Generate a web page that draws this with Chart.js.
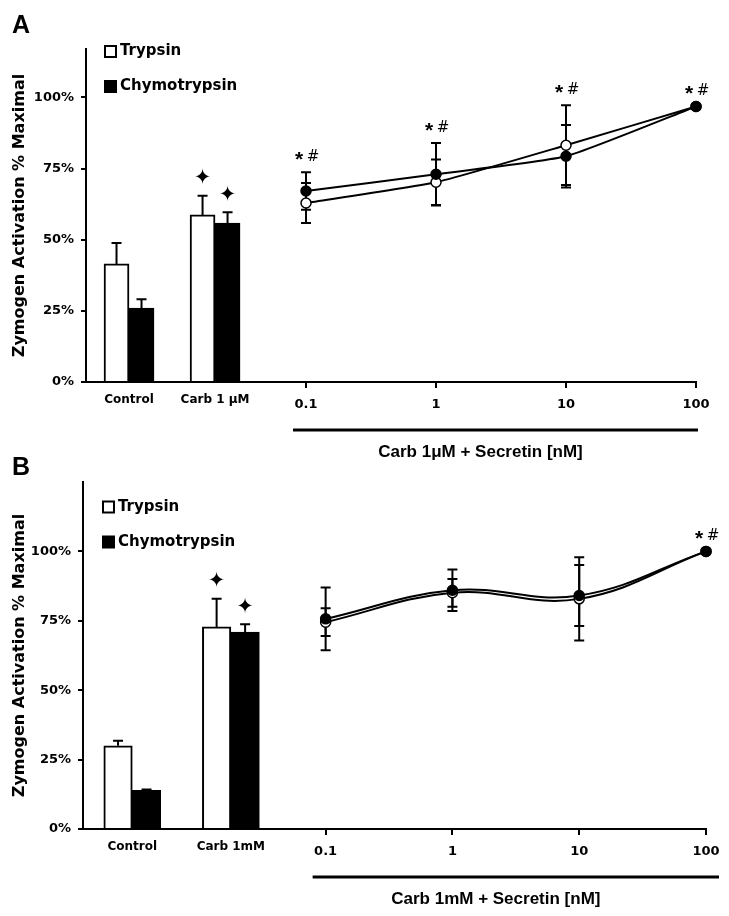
<!DOCTYPE html>
<html>
<head>
<meta charset="utf-8">
<script src="https://cdn.jsdelivr.net/npm/chart.js@4.4.1/dist/chart.umd.min.js"></script>
<style>
html,body{margin:0;padding:0;background:#fff;}
body{position:relative;width:729px;height:916px;overflow:hidden;}
canvas{display:block;}
.letter{position:absolute;left:12px;font:bold 25px 'Liberation Sans',Arial,sans-serif;line-height:25px;color:#000;}
</style>
</head>
<body>
<canvas id="chartA" width="729" height="460"></canvas>
<canvas id="chartB" width="729" height="456"></canvas>
<div class="letter" style="top:12px">A</div>
<div class="letter" style="top:454px">B</div>
<script>
var doses = [0.1, 1, 10, 100];
var yTicks = [0, 25, 50, 75, 100];
var seriesNames = ['Trypsin', 'Chymotrypsin'];

// panel A
var groupsA = ['Control', 'Carb 1 μM'];
var trypsinBarA = [41.5, 58.7];
var trypsinBarErrA = [7.3, 6.7];
var chymoBarA = [26, 55.8];
var chymoBarErrA = [3.1, 3.8];
var trypsinLineA = [62.9, 70.2, 83.2, 96.8];
var trypsinLineErrA = [7, 8, 14, 0];
var chymoLineA = [67.1, 73, 79.3, 96.8];
var chymoLineErrA = [6.6, 11, 11, 0];
var barMarksA = ['', '✦'];
var doseMarksA = ['* #', '* #', '* #', '* #'];

// panel B
var groupsB = ['Control', 'Carb 1mM'];
var trypsinBarB = [30, 72.8];
var trypsinBarErrB = [1.8, 10.1];
var chymoBarB = [13.9, 70.9];
var chymoBarErrB = [0.3, 2.9];
var trypsinLineB = [74.5, 85.1, 82.9, 100];
var trypsinLineErrB = [5, 5, 15, 0];
var chymoLineB = [75.7, 86, 84.1, 100];
var chymoLineErrB = [11.3, 7.5, 11, 0];
var barMarksB = ['', '✦'];
var doseMarksB = ['', '', '', '* #'];

Chart.defaults.font.family = "'DejaVu Sans', Verdana, sans-serif";
Chart.defaults.color = '#000';

function pts(xs, ys) {
  return ys.map(function (v, i) { return {x: xs[i], y: v}; });
}

var extras = {
  id: 'extras',
  beforeDatasetsDraw: function (chart) {
    var ctx = chart.ctx, ys = chart.scales.y;
    ctx.save();
    ctx.strokeStyle = '#000';
    ctx.lineWidth = 2;
    chart.data.datasets.forEach(function (ds, i) {
      if (!ds.errors) return;
      var meta = chart.getDatasetMeta(i);
      meta.data.forEach(function (el, j) {
        var v = ds.data[j].y, e = ds.errors[j];
        if (!e) return;
        var top = ys.getPixelForValue(v + e);
        var bot = ds.type === 'line' ? ys.getPixelForValue(v - e) : el.y;
        ctx.beginPath();
        ctx.moveTo(el.x, top); ctx.lineTo(el.x, bot);
        ctx.moveTo(el.x - 5, top); ctx.lineTo(el.x + 5, top);
        if (ds.type === 'line') { ctx.moveTo(el.x - 5, bot); ctx.lineTo(el.x + 5, bot); }
        ctx.stroke();
      });
    });
    ctx.restore();
  },
  afterDraw: function (chart, args, o) {
    var ctx = chart.ctx, ys = chart.scales.y, xs = chart.scales.x;
    var area = chart.chartArea;
    ctx.save();
    ctx.fillStyle = '#000';
    ctx.strokeStyle = '#000';
    ctx.textBaseline = 'middle';

    // legend
    var row = 0;
    chart.data.datasets.forEach(function (ds) {
      if (ds.type !== 'bar') return;
      var cy = o.legendY + row * o.legendGap;
      ctx.fillStyle = ds.backgroundColor;
      ctx.fillRect(o.legendX, cy - 5.5, 11, 11);
      ctx.lineWidth = 2;
      ctx.strokeRect(o.legendX, cy - 5.5, 11, 11);
      ctx.fillStyle = '#000';
      ctx.font = "bold 15px 'DejaVu Sans'";
      ctx.textAlign = 'left';
      ctx.fillText(ds.label, o.legendX + 15, cy);
      row++;
    });

    // marks over the bars
    chart.data.datasets.forEach(function (ds, i) {
      if (!ds.marks) return;
      var meta = chart.getDatasetMeta(i);
      meta.data.forEach(function (el, j) {
        if (!ds.marks[j]) return;
        var top = ys.getPixelForValue(ds.data[j].y + (ds.errors[j] || 0));
        ctx.font = "21px 'DejaVu Sans'";
        ctx.textAlign = 'center';
        ctx.fillText(ds.marks[j], el.x, top - 17);
      });
    });

    // marks over the doses
    o.doseMarks.forEach(function (m, j) {
      if (!m) return;
      var hi = Infinity;
      chart.data.datasets.forEach(function (ds) {
        if (ds.type !== 'line') return;
        hi = Math.min(hi, ys.getPixelForValue(ds.data[j].y + (ds.errors[j] || 0)));
      });
      var px = xs.getPixelForValue(doses[j]);
      var cy = hi - 17;
      ctx.textAlign = 'center';
      ctx.textBaseline = 'alphabetic';
      ctx.font = "bold 21px 'Liberation Sans'";
      ctx.fillText(m.split(' ')[0], px - 7, cy + 11);
      ctx.font = "15px 'DejaVu Sans'";
      ctx.fillText(m.split(' ')[1], px + 7, cy + 6);
      ctx.textBaseline = 'middle';
    });

    // bracket and dose title
    var bx0 = xs.getPixelForValue(doses[0]) - 13;
    var bx1 = xs.getPixelForValue(doses[doses.length - 1]) + o.bracketRight;
    ctx.lineWidth = 3;
    ctx.beginPath();
    ctx.moveTo(bx0, area.bottom + 48);
    ctx.lineTo(bx1, area.bottom + 48);
    ctx.stroke();
    ctx.font = "bold 17px 'Liberation Sans'";
    ctx.textAlign = 'center';
    ctx.fillText(o.title, xs.getPixelForValue(o.titleAt), area.bottom + 70);
    ctx.restore();
  }
};

function makePanel(id, p) {
  return new Chart(document.getElementById(id), {
    type: 'bar',
    data: {
      datasets: [
        {type: 'line', label: seriesNames[1], xAxisID: 'x', data: pts(doses, p.chymoLine), errors: p.chymoLineErr,
         borderColor: '#000', borderWidth: 2, tension: p.tension, pointRadius: 5, pointBorderWidth: 1.5,
         pointBackgroundColor: '#000', pointBorderColor: '#000', clip: false, order: 0},
        {type: 'line', label: seriesNames[0], xAxisID: 'x', data: pts(doses, p.trypsinLine), errors: p.trypsinLineErr,
         borderColor: '#000', borderWidth: 2, tension: p.tension, pointRadius: 5, pointBorderWidth: 1.5,
         pointBackgroundColor: '#fff', pointBorderColor: '#000', clip: false, order: 1},
        {type: 'bar', label: seriesNames[0], xAxisID: 'xb', data: pts([0, 1], p.trypsinBar), errors: p.trypsinBarErr,
         marks: p.barMarks, backgroundColor: '#fff', borderColor: '#000', borderWidth: 2,
         barThickness: p.barWidth, order: 2},
        {type: 'bar', label: seriesNames[1], xAxisID: 'xb', data: pts([0, 1], p.chymoBar), errors: p.chymoBarErr,
         marks: p.barMarks, backgroundColor: '#000', borderColor: '#000', borderWidth: 2,
         barThickness: p.barWidth, order: 3}
      ]
    },
    options: {
      responsive: false,
      animation: false,
      devicePixelRatio: 1,
      layout: {padding: {top: p.padTop, right: p.padRight, left: 0, bottom: 0}},
      plugins: {
        legend: {display: false},
        tooltip: {enabled: false},
        extras: {legendX: p.legendX, legendY: p.legendY, legendGap: 35, doseMarks: p.doseMarks,
                 title: p.title, titleAt: 2.2, bracketRight: p.bracketRight}
      },
      scales: {
        y: {
          min: 0, max: p.yMax,
          afterBuildTicks: function (s) { s.ticks = yTicks.map(function (v) { return {value: v}; }); },
          afterFit: function (s) { s.width = p.axisLeft; },
          border: {color: '#000', width: 2},
          grid: {drawOnChartArea: false, drawTicks: true, tickLength: 5, color: '#000', lineWidth: 2},
          ticks: {padding: 7, font: {size: 13, weight: 'bold'}, callback: function (v) { return v + '%'; }},
          title: {display: true, text: 'Zymogen Activation % Maximal', font: {size: 16, weight: 'bold'}, padding: {top: 10, bottom: 0}}
        },
        x: {
          type: 'logarithmic', position: 'bottom', offset: false,
          min: p.logMin, max: 100,
          afterBuildTicks: function (s) { s.ticks = doses.map(function (v) { return {value: v}; }); },
          afterFit: function (s) { s.height = p.axisBottom; },
          border: {color: '#000', width: 2},
          grid: {drawOnChartArea: false, drawTicks: true, tickLength: 6, color: '#000', lineWidth: 2, offset: false},
          ticks: {padding: 9, maxRotation: 0, autoSkip: false, font: {size: 13, weight: 'bold'},
                  callback: function (v) { return String(v); }}
        },
        xb: {
          type: 'linear', axis: 'x', position: {y: 0}, offset: false,
          min: -0.5, max: p.barMax,
          afterBuildTicks: function (s) { s.ticks = p.groups.map(function (g, i) { return {value: i}; }); },
          border: {display: false},
          grid: {display: false, drawTicks: false},
          ticks: {padding: 11, maxRotation: 0, autoSkip: false, font: {size: 12, weight: 'bold'},
                  callback: function (v) { return p.groups[v]; }}
        }
      }
    },
    plugins: [extras]
  });
}

makePanel('chartA', {
  groups: groupsA, trypsinBar: trypsinBarA, trypsinBarErr: trypsinBarErrA, chymoBar: chymoBarA, chymoBarErr: chymoBarErrA,
  trypsinLine: trypsinLineA, trypsinLineErr: trypsinLineErrA, chymoLine: chymoLineA, chymoLineErr: chymoLineErrA,
  barMarks: barMarksA, doseMarks: doseMarksA, title: 'Carb 1μM + Secretin [nM]',
  yMax: 117, logMin: 0.00203, barMax: 6.59, tension: 0.15, barWidth: 25,
  padTop: 49, padRight: 33, axisLeft: 86, axisBottom: 78, legendX: 105, legendY: 51.5, bracketRight: 2
});

makePanel('chartB', {
  groups: groupsB, trypsinBar: trypsinBarB, trypsinBarErr: trypsinBarErrB, chymoBar: chymoBarB, chymoBarErr: chymoBarErrB,
  trypsinLine: trypsinLineB, trypsinLineErr: trypsinLineErrB, chymoLine: chymoLineB, chymoLineErr: chymoLineErrB,
  barMarks: barMarksB, doseMarks: doseMarksB, title: 'Carb 1mM + Secretin [nM]',
  yMax: 125, logMin: 0.00122, barMax: 5.82, tension: 0.4, barWidth: 28.5,
  padTop: 22, padRight: 23, axisLeft: 83, axisBottom: 87, legendX: 103, legendY: 47, bracketRight: 13
});
</script>
</body>
</html>
